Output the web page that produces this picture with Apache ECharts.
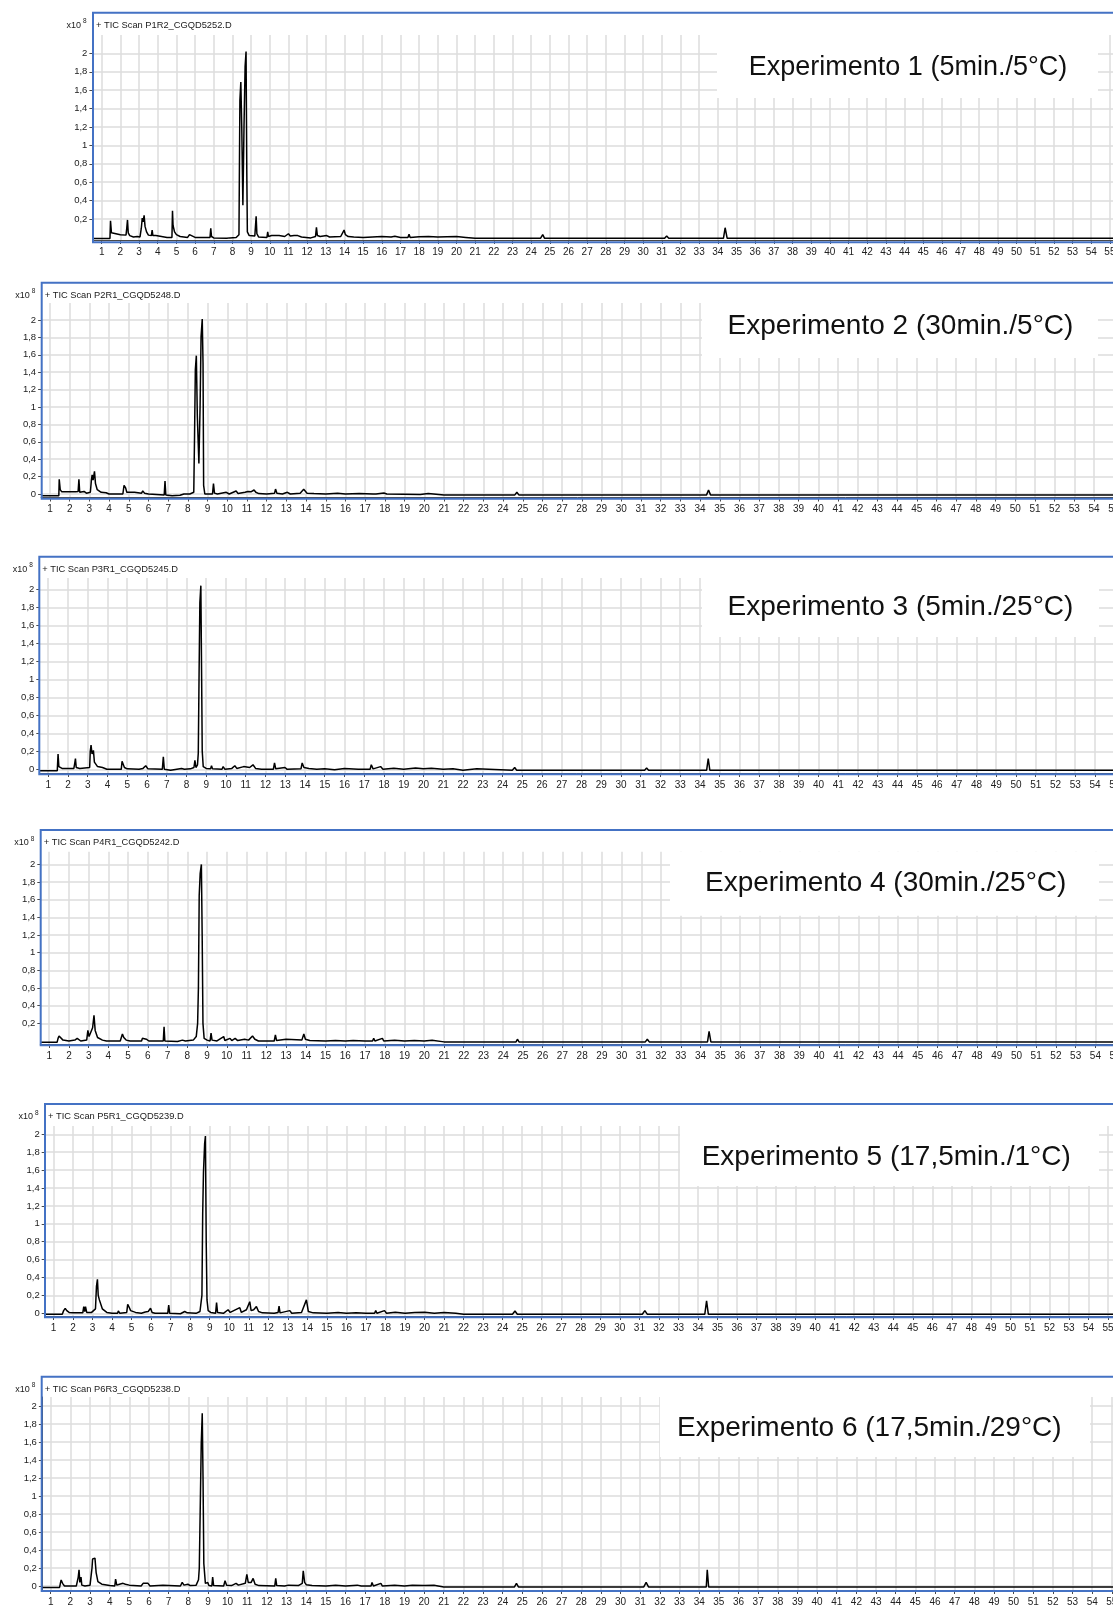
<!DOCTYPE html>
<html>
<head>
<meta charset="utf-8">
<title>TIC – Experimentos 1 a 6</title>
<script src="https://cdn.jsdelivr.net/npm/echarts@6/dist/echarts.min.js"></script>
<style>
  html, body { margin: 0; padding: 0; background: #ffffff; }
  #chart { width: 1113px; height: 1605px; }
</style>
</head>
<body>
<div id="chart"></div>
<script>
// Retention time ticks (min)
const minutos = [1,2,3,4,5,6,7,8,9,10,11,12,13,14,15,16,17,18,19,20,21,22,23,24,25,26,27,28,
  29,30,31,32,33,34,35,36,37,38,39,40,41,42,43,44,45,46,47,48,49,50,51,52,53,54,55,56];
// Abundance ticks (x10^8)
const abundanciaTicks = [0,0.2,0.4,0.6,0.8,1,1.2,1.4,1.6,1.8,2];
const abundanciaTicksSinCero = [0.2,0.4,0.6,0.8,1,1.2,1.4,1.6,1.8,2];

const archivos = [
  '+ TIC Scan P1R2_CGQD5252.D',
  '+ TIC Scan P2R1_CGQD5248.D',
  '+ TIC Scan P3R1_CGQD5245.D',
  '+ TIC Scan P4R1_CGQD5242.D',
  '+ TIC Scan P5R1_CGQD5239.D',
  '+ TIC Scan P6R3_CGQD5238.D'
];
const experimentos = [
  'Experimento 1 (5min./5°C)',
  'Experimento 2 (30min./5°C)',
  'Experimento 3 (5min./25°C)',
  'Experimento 4 (30min./25°C)',
  'Experimento 5 (17,5min./1°C)',
  'Experimento 6 (17,5min./29°C)'
];

// Total ion chromatograms: [retention time (min), abundance (x10^8)]
const tic1 = [[0.5,-0.012],[1.44,-0.012],[1.47,0.18],[1.52,0.05],[1.6,0.035],[2.0,0.03],[2.3,0.025],[2.34,0.1],[2.38,0.19],[2.42,0.05],[2.5,0.02],[2.7,0.005],[2.9,0.01],[3.05,0.005],[3.12,0.1],[3.17,0.21],[3.22,0.17],[3.27,0.24],[3.32,0.12],[3.4,0.06],[3.5,0.025],[3.66,0.02],[3.7,0.08],[3.74,0.02],[3.9,0.02],[3.95,0.0],[4.5,0.0],[4.76,0.0],[4.79,0.29],[4.82,0.13],[4.9,0.06],[5.0,0.03],[5.2,0.01],[5.6,0.0],[5.7,0.03],[5.8,0.01],[6.0,0.0],[6.8,0.0],[6.84,0.1],[6.88,0.01],[7.0,-0.005],[7.7,-0.01],[7.8,0.01],[7.85,-0.005],[8.2,0.0],[8.35,0.03],[8.4,1.49],[8.45,1.69],[8.5,1.2],[8.56,0.35],[8.62,1.2],[8.68,1.86],[8.73,2.02],[8.77,0.7],[8.8,0.06],[8.9,0.02],[9.2,0.015],[9.27,0.23],[9.31,0.04],[9.4,0.005],[9.85,0.0],[9.89,0.06],[9.93,0.01],[10.1,0.02],[10.2,0.005],[10.5,0.02],[10.8,0.01],[11.0,0.04],[11.1,0.015],[11.3,0.02],[11.4,0.04],[11.5,0.02],[11.7,0.005],[12.2,-0.005],[12.45,0.01],[12.5,0.11],[12.55,0.02],[12.7,0.01],[13.05,0.02],[13.2,0.005],[13.8,0.01],[13.98,0.08],[14.05,0.03],[14.2,0.01],[14.5,0.005],[15.0,0.0],[15.5,0.005],[16.0,0.01],[16.5,0.005],[16.7,0.012],[17.0,0.0],[17.4,0.0],[17.46,0.035],[17.52,0.0],[18.0,0.008],[18.5,0.01],[19.0,0.005],[19.5,0.008],[20.0,0.01],[20.5,0.0],[21.0,-0.01],[24.5,-0.01],[24.62,0.03],[24.72,-0.01],[31.15,-0.01],[31.26,0.015],[31.37,-0.01],[34.3,-0.01],[34.39,0.105],[34.5,-0.01],[40.0,-0.01],[40.05,0.006],[40.1,-0.01],[57,-0.01]];

const tic2 = [[0.55,-0.02],[1.45,-0.02],[1.47,0.17],[1.52,0.05],[1.6,0.025],[2.3,0.027],[2.43,0.03],[2.47,0.17],[2.51,0.02],[2.6,0.015],[2.73,0.03],[2.85,0.01],[3.05,0.02],[3.1,0.15],[3.14,0.22],[3.19,0.16],[3.26,0.26],[3.31,0.12],[3.4,0.05],[3.6,0.02],[3.85,0.015],[4.0,0.0],[4.7,0.0],[4.76,0.1],[4.84,0.07],[4.9,0.02],[5.0,0.01],[5.29,0.02],[5.35,0.0],[5.65,0.01],[5.71,0.035],[5.8,0.01],[6.0,0.0],[6.8,-0.01],[6.84,0.15],[6.88,-0.01],[7.2,-0.02],[7.6,-0.015],[7.8,0.0],[7.9,-0.01],[8.1,0.0],[8.3,0.02],[8.34,0.68],[8.38,1.43],[8.43,1.59],[8.48,0.9],[8.56,0.35],[8.62,1.0],[8.67,1.81],[8.73,2.01],[8.77,1.5],[8.8,0.1],[8.86,0.0],[9.25,0.0],[9.3,0.12],[9.35,0.01],[9.5,0.0],[9.95,0.02],[10.1,0.0],[10.45,0.035],[10.55,0.005],[10.9,0.02],[11.05,0.03],[11.2,0.025],[11.36,0.046],[11.45,0.02],[11.6,0.005],[12.0,0.0],[12.4,0.01],[12.45,0.057],[12.52,0.01],[12.8,0.0],[13.05,0.02],[13.2,0.0],[13.7,0.01],[13.88,0.054],[13.95,0.05],[14.05,0.01],[14.4,0.005],[15.0,0.0],[15.6,0.008],[16.0,0.0],[16.7,0.006],[17.4,0.0],[17.47,0.015],[17.55,0.0],[17.95,0.012],[18.1,0.0],[19.8,-0.005],[20.2,0.006],[21.0,-0.01],[24.6,-0.01],[24.7,0.02],[24.8,-0.01],[31.2,-0.01],[31.3,0.012],[31.4,-0.01],[34.33,-0.01],[34.43,0.046],[34.53,-0.01],[40.05,-0.01],[40.1,0.005],[40.15,-0.01],[45.55,-0.01],[45.6,0.005],[45.65,-0.01],[57,-0.01]];

const tic3 = [[0.55,-0.015],[1.46,-0.015],[1.5,0.17],[1.54,0.03],[1.7,0.01],[2.3,0.01],[2.34,0.06],[2.38,0.12],[2.42,0.02],[2.6,0.01],[3.1,0.02],[3.13,0.2],[3.17,0.27],[3.22,0.17],[3.29,0.21],[3.34,0.08],[3.5,0.03],[3.75,0.02],[3.97,0.0],[4.7,0.0],[4.74,0.09],[4.8,0.08],[4.86,0.02],[5.0,0.005],[5.6,0.0],[5.7,0.02],[5.8,0.01],[5.94,0.04],[6.05,0.005],[6.78,0.0],[6.83,0.14],[6.88,0.0],[7.2,-0.01],[7.75,0.01],[7.9,0.0],[8.2,0.005],[8.38,0.02],[8.43,0.1],[8.48,0.02],[8.56,0.05],[8.6,0.18],[8.64,1.06],[8.68,1.85],[8.73,2.04],[8.77,1.0],[8.8,0.2],[8.85,0.03],[9.0,0.01],[9.22,0.005],[9.27,0.04],[9.32,0.005],[9.8,0.0],[9.86,0.03],[9.95,0.0],[10.3,0.01],[10.45,0.04],[10.55,0.01],[10.9,0.03],[11.0,0.01],[11.2,0.02],[11.37,0.05],[11.5,0.01],[11.8,0.0],[12.4,0.0],[12.46,0.07],[12.52,0.005],[12.99,0.02],[13.1,0.0],[13.8,0.005],[13.86,0.07],[13.95,0.02],[14.2,0.01],[14.6,0.0],[15.0,0.005],[15.5,-0.005],[16.0,0.01],[16.7,0.0],[17.3,0.0],[17.36,0.05],[17.45,0.005],[17.83,0.03],[17.95,0.0],[18.5,0.012],[19.0,0.0],[19.6,0.015],[20.0,0.005],[20.4,0.012],[21.0,0.0],[21.5,0.005],[22.0,-0.01],[22.7,0.005],[22.8,-0.01],[24.5,-0.01],[24.62,0.02],[24.72,-0.01],[29.93,-0.01],[29.98,0.005],[30.03,-0.01],[31.2,-0.01],[31.3,0.015],[31.4,-0.01],[33.1,-0.01],[33.15,0.005],[33.2,-0.01],[34.34,-0.01],[34.42,0.12],[34.5,-0.01],[36.7,-0.01],[36.75,0.005],[36.8,-0.01],[57,-0.01]];

const tic4 = [[0.55,-0.015],[1.4,-0.015],[1.45,0.03],[1.5,0.057],[1.58,0.04],[1.7,0.01],[2.0,0.0],[2.3,0.01],[2.42,0.03],[2.5,0.01],[2.6,0.0],[2.9,0.01],[2.96,0.12],[3.02,0.05],[3.1,0.07],[3.2,0.15],[3.27,0.29],[3.33,0.12],[3.45,0.04],[3.7,0.01],[3.9,0.0],[4.6,0.0],[4.71,0.08],[4.78,0.04],[4.9,0.01],[5.1,0.0],[5.68,0.0],[5.72,0.03],[5.8,0.015],[5.92,0.02],[6.05,0.0],[6.78,0.0],[6.82,0.16],[6.86,0.0],[7.5,-0.005],[7.75,0.01],[7.9,0.0],[8.3,0.01],[8.45,0.05],[8.52,0.2],[8.56,0.6],[8.6,1.65],[8.65,1.9],[8.71,2.0],[8.75,1.2],[8.79,0.2],[8.85,0.03],[9.0,0.01],[9.15,0.0],[9.2,0.09],[9.25,0.01],[9.5,0.0],[9.84,0.05],[9.9,0.005],[10.16,0.03],[10.25,0.005],[10.42,0.03],[10.55,0.005],[10.9,0.02],[10.97,0.04],[11.1,0.01],[11.3,0.056],[11.42,0.02],[11.6,0.0],[12.4,0.0],[12.46,0.07],[12.52,0.005],[13.0,0.02],[13.1,0.0],[13.8,0.01],[13.9,0.08],[13.98,0.02],[14.2,0.005],[15.0,0.0],[15.5,0.005],[16.0,0.0],[16.4,0.005],[17.0,0.0],[17.38,0.0],[17.44,0.03],[17.5,0.0],[17.88,0.03],[17.95,0.0],[18.5,0.008],[19.0,0.0],[19.5,0.006],[20.0,0.0],[20.4,0.008],[21.0,-0.01],[24.65,-0.01],[24.72,0.02],[24.8,-0.01],[31.2,-0.01],[31.3,0.02],[31.4,-0.01],[34.35,-0.01],[34.43,0.11],[34.52,-0.01],[57,-0.01]];

const tic5 = [[0.55,-0.01],[1.45,-0.01],[1.52,0.03],[1.6,0.056],[1.68,0.03],[1.8,0.01],[2.0,0.005],[2.5,0.005],[2.55,0.075],[2.6,0.02],[2.64,0.075],[2.7,0.01],[2.8,0.02],[2.95,0.01],[3.15,0.05],[3.2,0.3],[3.25,0.38],[3.29,0.2],[3.35,0.15],[3.5,0.05],[3.73,0.01],[4.0,0.0],[4.28,0.0],[4.32,0.026],[4.4,0.0],[4.75,0.01],[4.8,0.1],[4.87,0.07],[4.95,0.03],[5.2,0.01],[5.5,0.0],[5.7,0.015],[5.77,0.03],[5.85,0.02],[5.97,0.056],[6.05,0.01],[6.2,0.0],[6.85,0.0],[6.9,0.093],[6.95,0.0],[7.5,-0.005],[7.72,0.02],[7.78,0.037],[7.85,0.005],[8.3,0.0],[8.5,0.02],[8.6,0.2],[8.64,1.12],[8.68,1.58],[8.74,1.9],[8.78,1.98],[8.82,0.8],[8.86,0.15],[8.92,0.03],[9.0,0.05],[9.05,0.01],[9.3,0.0],[9.35,0.12],[9.4,0.01],[9.7,0.0],[9.94,0.04],[10.05,0.01],[10.54,0.063],[10.62,0.01],[10.88,0.04],[10.95,0.02],[11.05,0.13],[11.12,0.03],[11.25,0.04],[11.39,0.075],[11.5,0.02],[11.7,0.005],[12.3,0.0],[12.5,0.01],[12.55,0.08],[12.6,0.005],[13.1,0.03],[13.2,0.0],[13.7,0.01],[13.8,0.02],[13.95,0.15],[14.05,0.02],[14.3,0.005],[15.0,0.0],[15.57,0.01],[16.0,0.0],[16.5,0.005],[17.0,0.0],[17.44,0.0],[17.5,0.03],[17.56,0.0],[17.95,0.03],[18.05,0.0],[18.5,0.012],[19.0,0.0],[19.5,0.01],[20.0,0.012],[20.5,0.0],[21.0,0.008],[21.6,0.0],[22.0,-0.01],[22.75,-0.01],[22.8,0.01],[22.85,-0.01],[24.5,-0.01],[24.63,0.026],[24.75,-0.01],[29.92,-0.01],[29.97,0.008],[30.02,-0.01],[31.15,-0.01],[31.28,0.03],[31.4,-0.01],[34.35,-0.01],[34.44,0.14],[34.53,-0.01],[40.0,-0.01],[40.05,0.005],[40.1,-0.01],[42.3,-0.01],[42.35,0.005],[42.4,-0.01],[57,-0.01]];

const tic6 = [[0.55,-0.015],[1.45,-0.015],[1.5,0.04],[1.53,0.067],[1.6,0.03],[1.7,0.0],[2.3,0.0],[2.4,0.1],[2.44,0.18],[2.48,0.04],[2.54,0.1],[2.58,0.01],[2.74,0.0],[3.0,0.01],[3.1,0.2],[3.13,0.3],[3.19,0.28],[3.25,0.31],[3.31,0.15],[3.4,0.05],[3.6,0.02],[4.0,0.005],[4.26,0.0],[4.3,0.078],[4.36,0.01],[4.5,0.02],[4.68,0.03],[4.8,0.02],[5.0,0.01],[5.6,0.0],[5.7,0.03],[5.8,0.01],[5.95,0.03],[6.05,0.0],[6.71,0.01],[6.8,-0.005],[7.6,0.0],[7.69,0.04],[7.78,0.01],[7.98,0.02],[8.1,0.005],[8.4,0.01],[8.52,0.07],[8.56,0.2],[8.62,1.03],[8.66,1.59],[8.71,1.92],[8.75,1.2],[8.79,0.25],[8.87,0.03],[8.99,0.04],[9.05,0.005],[9.2,0.0],[9.24,0.1],[9.29,0.005],[9.8,0.0],[9.87,0.06],[9.95,0.01],[10.2,0.005],[10.43,0.03],[10.55,0.01],[10.9,0.03],[10.98,0.13],[11.05,0.04],[11.2,0.04],[11.3,0.085],[11.4,0.02],[11.6,0.005],[12.4,0.0],[12.45,0.085],[12.5,0.005],[12.9,0.0],[13.1,0.01],[13.6,0.005],[13.8,0.03],[13.85,0.17],[13.92,0.04],[14.0,0.015],[14.3,0.005],[15.0,0.0],[15.5,0.008],[16.0,0.0],[16.6,0.01],[16.8,0.0],[17.3,0.0],[17.35,0.04],[17.42,0.0],[17.8,0.03],[17.88,0.0],[18.5,0.01],[19.0,0.0],[19.4,0.01],[20.0,0.005],[20.5,0.008],[21.0,-0.01],[24.6,-0.01],[24.7,0.03],[24.8,-0.01],[31.18,-0.01],[31.3,0.04],[31.42,-0.01],[33.2,-0.01],[33.25,0.008],[33.3,-0.01],[34.36,-0.01],[34.41,0.18],[34.48,-0.01],[36.75,-0.01],[36.8,0.006],[36.85,-0.01],[40.0,-0.01],[40.05,0.006],[40.1,-0.01],[41.75,-0.01],[41.8,0.006],[41.85,-0.01],[42.3,-0.01],[42.35,0.006],[42.4,-0.01],[57,-0.01]];

const trazas = [tic1, tic2, tic3, tic4, tic5, tic6];

// Panel geometry (pixels): plot area, axis ranges, outer blue frame, caption box
const paneles = [
  { left: 92.4, xMin: 0.5,  ppm: 18.67, top: 35,    height: 205,   yMin: -0.028, yMax: 2.2,
    frame: [93, 12.7, 229.6],    ceroVisible: false,
    caja: [717, 35, 381, 63],     centro: [908, 67.6],    fs: 27 },
  { left: 41.1, xMin: 0.55, ppm: 19.7,  top: 303,   height: 194.5, yMin: -0.04,  yMax: 2.195,
    frame: [41.7, 282.7, 216],   ceroVisible: true,
    caja: [702, 303, 396, 55],    centro: [900.5, 326.7], fs: 28 },
  { left: 39.3, xMin: 0.55, ppm: 19.75, top: 578,   height: 195,   yMin: -0.041, yMax: 2.125,
    frame: [39.3, 556.7, 217.6], ceroVisible: true,
    caja: [702, 578, 397, 59],    centro: [900.5, 607],   fs: 28 },
  { left: 40.3, xMin: 0.55, ppm: 19.74, top: 851.7, height: 192.3, yMin: -0.034, yMax: 2.144,
    frame: [40.7, 830, 215.3],   ceroVisible: false,
    caja: [670, 851.7, 429, 64],  centro: [885.7, 883.6], fs: 28 },
  { left: 44.7, xMin: 0.55, ppm: 19.53, top: 1126,  height: 190,   yMin: -0.03,  yMax: 2.093,
    frame: [45, 1104, 213.3],    ceroVisible: true,
    caja: [680, 1126, 419, 60],   centro: [886.2, 1157],  fs: 28 },
  { left: 41.9, xMin: 0.55, ppm: 19.65, top: 1397,  height: 193,   yMin: -0.044, yMax: 2.1,
    frame: [41.7, 1376.7, 214.3], ceroVisible: true,
    caja: [660, 1397, 430, 60],   centro: [869.3, 1428],  fs: 28 }
];

const X_MAX = 57;
const FUENTE = '"Liberation Sans", Arial, Helvetica, sans-serif';
const AZUL = '#4472c4';
const GRID_GRIS = '#dcdcdc';
const EJE = '#4a4a4a';

const formatoComa = v => String(Math.round(v * 10) / 10).replace('.', ',');

const grids = [], xAxes = [], yAxes = [], series = [], graficos = [];

paneles.forEach((p, i) => {
  grids.push({
    left: p.left, top: p.top,
    width: (X_MAX - p.xMin) * p.ppm,
    height: p.height,
    containLabel: false,
    outerBoundsMode: 'none'
  });

  xAxes.push({
    type: 'value', gridIndex: i, min: p.xMin, max: X_MAX,
    axisLine: { show: true, onZero: false, lineStyle: { color: EJE, width: 1 } },
    axisTick: { show: true, length: 4, customValues: minutos, lineStyle: { color: EJE, width: 1 } },
    axisLabel: { customValues: minutos, fontSize: 10, color: '#222', margin: 7, fontFamily: FUENTE },
    splitLine: { show: true, lineStyle: { color: GRID_GRIS, width: 1.5 } }
  });

  const yt = p.ceroVisible ? abundanciaTicks : abundanciaTicksSinCero;
  yAxes.push({
    type: 'value', gridIndex: i, min: p.yMin, max: p.yMax,
    axisLine: { show: true, onZero: false, lineStyle: { color: EJE, width: 1 } },
    axisTick: { show: true, length: 3, customValues: yt, lineStyle: { color: EJE, width: 1 } },
    axisLabel: { customValues: yt, formatter: formatoComa, fontSize: 9.5, color: '#222', margin: 5, fontFamily: FUENTE },
    splitLine: { show: true, lineStyle: { color: GRID_GRIS, width: 1.5 } }
  });

  series.push({
    type: 'line', xAxisIndex: i, yAxisIndex: i,
    data: trazas[i],
    symbol: 'none', showSymbol: false, silent: true,
    lineStyle: { color: '#000000', width: 1.5 },
    z: 3
  });

  const [fx, fy, fh] = p.frame;
  // outer blue frame of each chromatogram window
  graficos.push({
    type: 'rect', z: 50, silent: true,
    shape: { x: fx, y: fy, width: 1200, height: fh },
    style: { fill: null, stroke: AZUL, lineWidth: 2 }
  });
  // file caption inside the frame
  graficos.push({
    type: 'text', z: 51, silent: true, x: fx + 3, y: fy + 12.5,
    style: { text: archivos[i], fill: '#1a1a1a', font: '9.3px ' + FUENTE,
             align: 'left', verticalAlign: 'middle', textAlign: 'left', textVerticalAlign: 'middle' }
  });
  // "x10^8" multiplier
  graficos.push({
    type: 'text', z: 51, silent: true, x: fx - 12, y: fy + 12.5,
    style: { text: 'x10', fill: '#1a1a1a', font: '9px ' + FUENTE,
             align: 'right', verticalAlign: 'middle', textAlign: 'right', textVerticalAlign: 'middle' }
  });
  graficos.push({
    type: 'text', z: 51, silent: true, x: fx - 10, y: fy + 9,
    style: { text: '8', fill: '#1a1a1a', font: '6.5px ' + FUENTE,
             align: 'left', verticalAlign: 'middle', textAlign: 'left', textVerticalAlign: 'middle' }
  });
  // experiment caption on a white box
  const [bx, by, bw, bh] = p.caja;
  graficos.push({
    type: 'rect', z: 40, silent: true,
    shape: { x: bx, y: by, width: bw, height: bh },
    style: { fill: '#ffffff', stroke: null }
  });
  graficos.push({
    type: 'text', z: 41, silent: true, x: p.centro[0], y: p.centro[1],
    style: { text: experimentos[i], fill: '#111111', font: p.fs + 'px ' + FUENTE,
             align: 'center', verticalAlign: 'middle', textAlign: 'center', textVerticalAlign: 'middle' }
  });
});

const chart = echarts.init(document.getElementById('chart'), null, { renderer: 'canvas' });
chart.setOption({
  backgroundColor: '#ffffff',
  animation: false,
  grid: grids,
  xAxis: xAxes,
  yAxis: yAxes,
  series: series,
  graphic: { elements: graficos }
});
</script>
</body>
</html>
